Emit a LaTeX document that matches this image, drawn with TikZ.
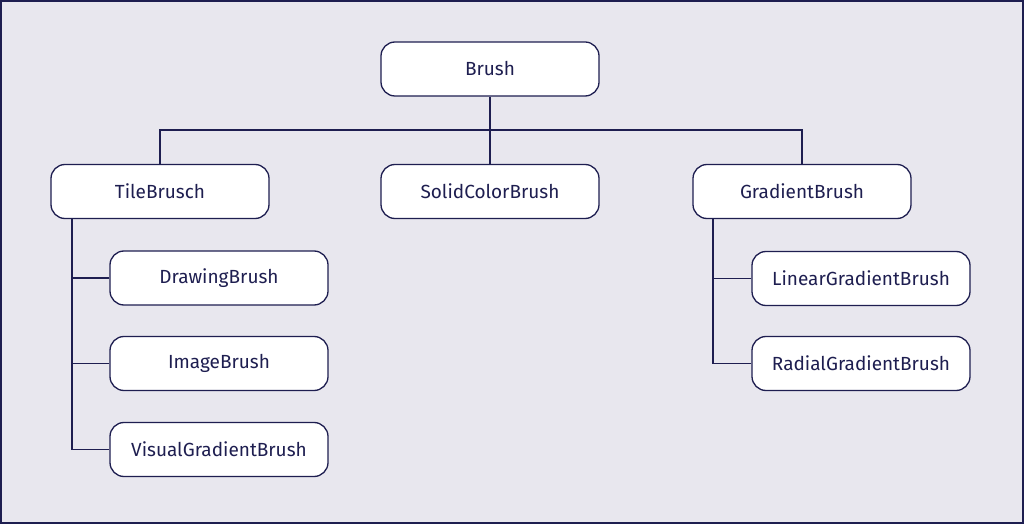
\documentclass[tikz,border=0pt]{standalone}
\usepackage{fontspec}
\setmainfont{Fira Sans}
\definecolor{bg}{HTML}{E8E7EE}
\definecolor{navy}{HTML}{1E1E50}
\begin{document}
\begin{tikzpicture}[x=1bp,y=-1bp,
  box/.style={draw=navy,fill=white,line width=1.3bp,rounded corners=14bp,minimum width=218bp,minimum height=54bp,inner sep=0pt,text=navy,font=\fontsize{19bp}{21bp}\selectfont},
  conn/.style={draw=navy,line width=1.6bp}]
\path[fill=bg,draw=navy,line width=2bp] (1,1) rectangle (1023,523);
\useasboundingbox (0,0) rectangle (1024,524);
\node[box] (brush) at (490,69) {Brush};
\node[box] (tile) at (160,191.5) {TileBrusch};
\node[box] (solid) at (490,191.5) {SolidColorBrush};
\node[box] (grad) at (802,191.5) {GradientBrush};
\node[box] (draw) at (219,278) {DrawingBrush};
\node[box] (image) at (219,363.5) {ImageBrush};
\node[box] (visual) at (219,449.5) {VisualGradientBrush};
\node[box] (linear) at (861,278.5) {LinearGradientBrush};
\node[box] (radial) at (861,363.5) {RadialGradientBrush};
\coordinate (bus) at (490,130);
\draw[conn] (brush.south) -- (bus);
\draw[conn] (tile.north) |- (bus) -| (grad.north);
\draw[conn] (bus) -- (solid.north);
\coordinate (lt) at (72,0);
\draw[conn] (tile.south -| lt) |- (visual.west);
\draw[conn] (draw.west) -- (draw.west -| lt);
\draw[conn] (image.west) -- (image.west -| lt);
\coordinate (rt) at (713,0);
\draw[conn] (grad.south -| rt) |- (radial.west);
\draw[conn] (linear.west) -- (linear.west -| rt);
\end{tikzpicture}
\end{document}
